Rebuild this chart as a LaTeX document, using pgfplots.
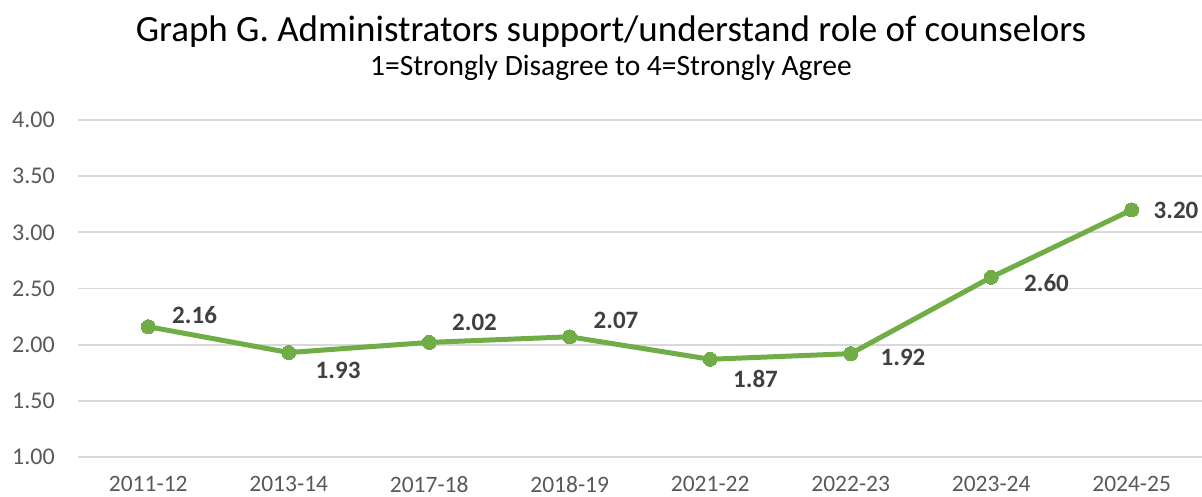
\documentclass[border=0pt]{standalone}
\usepackage{fontspec}
\setmainfont{Carlito}
\usepackage{pgfplots}
\usepackage{pgfplotstable}
\pgfplotsset{compat=1.18}
\definecolor{linegreen}{HTML}{70AD47}
\definecolor{labelgray}{HTML}{404040}
\definecolor{tickgray}{HTML}{595959}
\definecolor{gridgray}{HTML}{D9D9D9}

% x, value, label offset right (dx) and up (dy) in pt
\pgfplotstableread{
x y dx dy
0 2.16 24 12
1 1.93 27 -18
2 2.02 23 20
3 2.07 24 16
4 1.87 23 -20
5 1.92 30 -4
6 2.60 33 -6
7 3.20 22 -1
}\admindata

\begin{document}
\begin{tikzpicture}
\useasboundingbox (-78pt,-40pt) rectangle (1124pt,457pt);
\begin{axis}[
    at={(0,0)}, anchor=south west,
    scale only axis,
    width=1124pt, height=337pt,
    xmin=-0.5, xmax=7.5,
    ymin=1, ymax=4,
    xtick={0,...,7},
    xticklabels={2011-12,2013-14,2017-18,2018-19,2021-22,2022-23,2023-24,2024-25},
    ytick={1,1.5,...,4},
    yticklabel style={/pgf/number format/fixed, /pgf/number format/fixed zerofill,
        /pgf/number format/precision=2, /pgf/number format/assume math mode=true,
        font=\fontsize{24}{28}\selectfont, text=tickgray, inner sep=0pt, anchor=east, xshift=-23pt},
    xticklabel style={font=\fontsize{23.5}{28}\selectfont, text=tickgray, inner sep=0pt, anchor=north, yshift=-19pt},
    major tick length=0pt,
    axis line style={draw=none},
    ymajorgrids,
    grid style={gridgray, line width=1.8pt},
    clip=false,
]
\addplot[linegreen, line width=5pt, mark=*, mark size=7pt,
    mark options={fill=linegreen, draw=linegreen, line width=0pt},
    visualization depends on={\thisrow{dx} \as \dx},
    visualization depends on={\thisrow{dy} \as \dy},
    nodes near coords,
    point meta=explicit,
    nodes near coords style={/pgf/number format/fixed, /pgf/number format/fixed zerofill,
        /pgf/number format/precision=2, /pgf/number format/assume math mode=true,
        font=\fontsize{25}{29}\selectfont\bfseries, text=labelgray, inner sep=0pt,
        anchor=west, xshift=\dx pt, yshift=\dy pt},
] table[x=x, y=y, meta=y] {\admindata};
\end{axis}
\node[anchor=base, font=\fontsize{37}{44}\selectfont] at (533pt,415pt)
    {Graph G. Administrators support/understand role of counselors};
\node[anchor=base, font=\fontsize{29.5}{34}\selectfont] at (533pt,381pt)
    {1=Strongly Disagree to 4=Strongly Agree};
\end{tikzpicture}
\end{document}
